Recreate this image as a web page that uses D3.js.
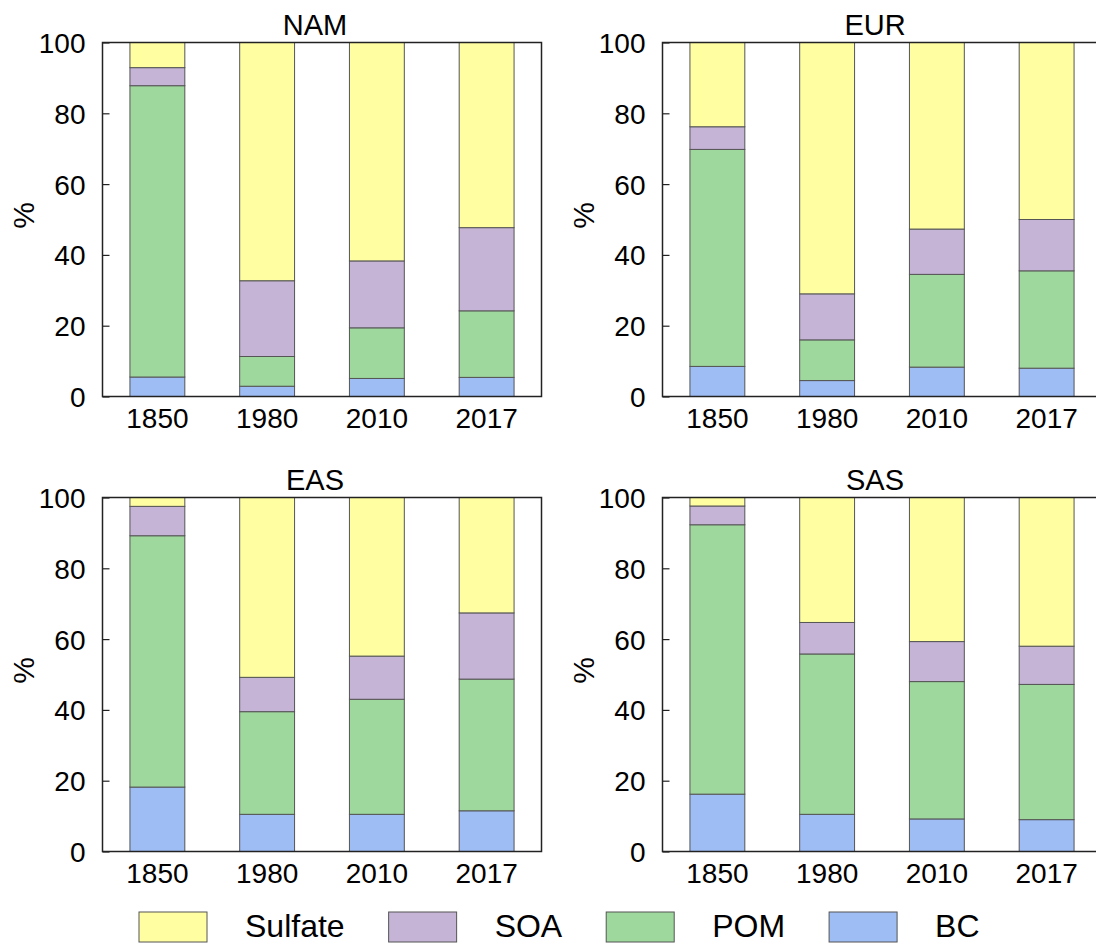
<!DOCTYPE html>
<html>
<head>
<meta charset="utf-8">
<script src="https://cdn.jsdelivr.net/npm/d3@7"></script>
<style>
  body { margin: 0; background: #fff; }
  svg text { font-family: "Liberation Sans", Arial, sans-serif; fill: #000; }
</style>
</head>
<body>
<div id="display"></div>
<script>
let w = 1096;
let h = 944;

// data (percent of total)
const years = ['1850', '1980', '2010', '2017'];
const regions = ['NAM', 'EUR', 'EAS', 'SAS'];
const species = ['BC', 'POM', 'SOA', 'Sulfate'];
const legendOrder = ['Sulfate', 'SOA', 'POM', 'BC'];

const bcVals = {
  NAM: [5.5, 2.9, 5.1, 5.4],
  EUR: [8.5, 4.5, 8.3, 8.0],
  EAS: [18.2, 10.5, 10.5, 11.5],
  SAS: [16.2, 10.5, 9.2, 9.0]
};
const pomVals = {
  NAM: [82.3, 8.4, 14.3, 18.8],
  EUR: [61.3, 11.5, 26.2, 27.5],
  EAS: [71.0, 29.0, 32.5, 37.2],
  SAS: [76.1, 45.3, 38.8, 38.2]
};
const soaVals = {
  NAM: [5.1, 21.4, 18.9, 23.5],
  EUR: [6.4, 13.0, 12.8, 14.5],
  EAS: [8.3, 9.7, 12.2, 18.7],
  SAS: [5.3, 8.9, 11.3, 10.8]
};
const sulfateVals = {
  NAM: [7.1, 67.3, 61.7, 52.3],
  EUR: [23.8, 71.0, 52.7, 50.0],
  EAS: [2.5, 50.8, 44.8, 32.6],
  SAS: [2.4, 35.3, 40.7, 42.0]
};
const yTicks = [0, 20, 40, 60, 80, 100];

const colors = {
  Sulfate: '#ffffa2',
  SOA: '#c6b4d7',
  POM: '#9fd89d',
  BC: '#9ebdf5'
};

const valsBySpecies = { BC: bcVals, POM: pomVals, SOA: soaVals, Sulfate: sulfateVals };

// layout
const panelW = 439;
const panelH = 354;
const panelPos = [
  { x: 102.5, y: 42.5 },
  { x: 662.5, y: 42.5 },
  { x: 102.5, y: 497.5 },
  { x: 662.5, y: 497.5 }
];

let viz = d3.select('#display')
  .append('svg')
    .attr('width', w)
    .attr('height', h)
    .style('background-color', 'white');

let xScale = d3.scaleBand().domain(years).range([0, panelW]).paddingInner(0.5).paddingOuter(0.25);
let yScale = d3.scaleLinear().domain([0, 100]).range([panelH, 0]);

let stack = d3.stack().keys(species);

regions.forEach((reg, i) => {
  let pos = panelPos[i];
  let g = viz.append('g').attr('transform', 'translate(' + pos.x + ',' + pos.y + ')');

  let rows = years.map((yr, j) => {
    let r = { year: yr };
    species.forEach(s => { r[s] = valsBySpecies[s][reg][j]; });
    return r;
  });
  let series = stack(rows);

  series.forEach(s => {
    g.append('g')
      .selectAll('rect')
      .data(s)
      .join('rect')
        .attr('x', d => xScale(d.data.year))
        .attr('y', d => yScale(d[1]))
        .attr('width', xScale.bandwidth())
        .attr('height', d => yScale(d[0]) - yScale(d[1]))
        .attr('fill', colors[s.key])
        .attr('stroke', '#555')
        .attr('stroke-width', 1);
  });

  // y axis: ticks inward
  let yAxis = d3.axisLeft(yScale).tickValues(yTicks).tickSizeInner(-7).tickSizeOuter(0).tickPadding(17);
  let ya = g.append('g').call(yAxis);
  ya.select('.domain').remove();
  ya.selectAll('line').attr('stroke', '#222').attr('stroke-width', 1.2);
  ya.selectAll('text').style('font-size', '28px').attr('dy', '0.36em');

  let xAxis = d3.axisBottom(xScale).tickSize(0).tickPadding(10);
  let xa = g.append('g').attr('transform', 'translate(0,' + panelH + ')').call(xAxis);
  xa.select('.domain').remove();
  xa.selectAll('text').style('font-size', '28px').attr('dy', '0.75em');

  // frame
  g.append('rect')
    .attr('width', panelW)
    .attr('height', panelH)
    .attr('fill', 'none')
    .attr('stroke', '#222')
    .attr('stroke-width', 1.5);

  g.append('text')
    .attr('x', panelW / 2 - 7)
    .attr('y', -8)
    .attr('text-anchor', 'middle')
    .style('font-size', '29px')
    .text(reg);

  g.append('text')
    .attr('transform', 'translate(' + (-79) + ',' + (panelH / 2 - 4) + ') rotate(-90)')
    .attr('text-anchor', 'middle')
    .attr('dy', '0.36em')
    .style('font-size', '30px')
    .text('%');
});

// legend
let lg = viz.append('g').attr('transform', 'translate(139,912)');
let cursor = 0;
legendOrder.forEach(s => {
  let item = lg.append('g').attr('transform', 'translate(' + cursor + ',0)');
  item.append('rect')
    .attr('width', 68)
    .attr('height', 30)
    .attr('fill', colors[s])
    .attr('stroke', '#555')
    .attr('stroke-width', 1);
  let t = item.append('text')
    .attr('x', 106)
    .attr('y', 25)
    .style('font-size', '32px')
    .text(s);
  cursor += 106 + t.node().getComputedTextLength() + 44;
});
</script>
</body>
</html>
